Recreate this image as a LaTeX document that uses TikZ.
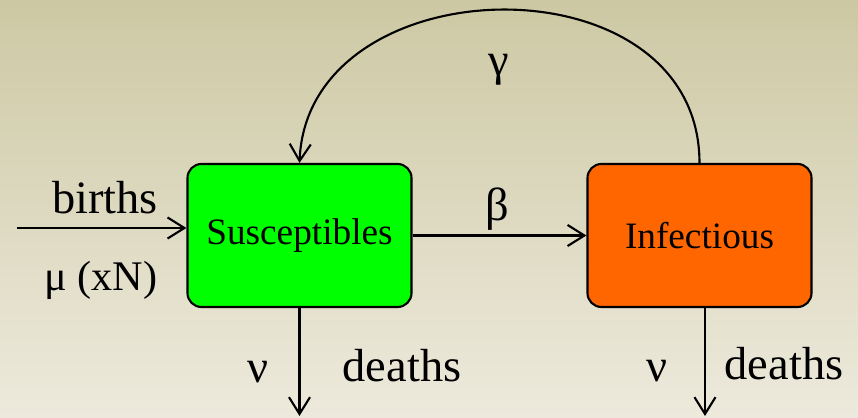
\documentclass[tikz,border=0pt]{standalone}
\usepackage{fontspec}
\setmainfont{Liberation Serif}
\usepackage{xcolor}
\usetikzlibrary{arrows.meta}

\definecolor{bgtop}{RGB}{205,200,163}
\definecolor{bgbot}{RGB}{237,234,221}
\definecolor{susgreen}{RGB}{0,255,0}
\definecolor{inforange}{RGB}{255,102,0}

\begin{document}
\begin{tikzpicture}[
    x=0.025cm, y=-0.025cm,
    every node/.style={font=\rmfamily\fontsize{33}{36}\selectfont},
    flow/.style={draw, line width=1.5pt, -{Straight Barb[length=12pt, width=15pt, line width=1.5pt]}},
    box/.style={draw, line width=1.5pt, rounded corners=10pt, minimum width=5.6cm,
        minimum height=3.575cm, inner sep=0pt, font=\rmfamily\fontsize{26.5}{30}\selectfont},
    lbl/.style={anchor=base, inner sep=0pt}
]
\shade[top color=bgtop, bottom color=bgbot] (0,0) rectangle (858,418);
\useasboundingbox (0,0) rectangle (858,418);

\node[box, fill=susgreen] (sus) at (299.5,235.5) {Susceptibles};
\node[box, fill=inforange] (inf) at (699.5,235.5) {Infectious};

\node[lbl] (births) at (105,214) {births};
\node[lbl, font=\rmfamily\fontsize{30}{33}\selectfont] (mu) at (101,291) {μ (xN)};
\node[lbl] (beta) at (497,221) {β};
\node[lbl] (gamma) at (499,76) {γ};
\node[lbl] (nu1) at (258,383) {ν};
\node[lbl] (deaths1) at (402,382) {deaths};
\node[lbl] (nu2) at (657,382) {ν};
\node[lbl] (deaths2) at (784,380) {deaths};

\coordinate (birthin) at (17,228);
\coordinate (susout) at (299.5,416);
\coordinate (infout) at (705,416);

\draw[flow] (birthin) -- (birthin -| sus.west);
\draw[flow] (sus) -- (inf);
\draw[flow] (inf.north) .. controls +(0,-208) and +(8,-200) .. (sus.north);
\draw[flow] (sus.south) -- (susout);
\draw[flow] (inf.south -| infout) -- (infout);
\end{tikzpicture}
\end{document}
